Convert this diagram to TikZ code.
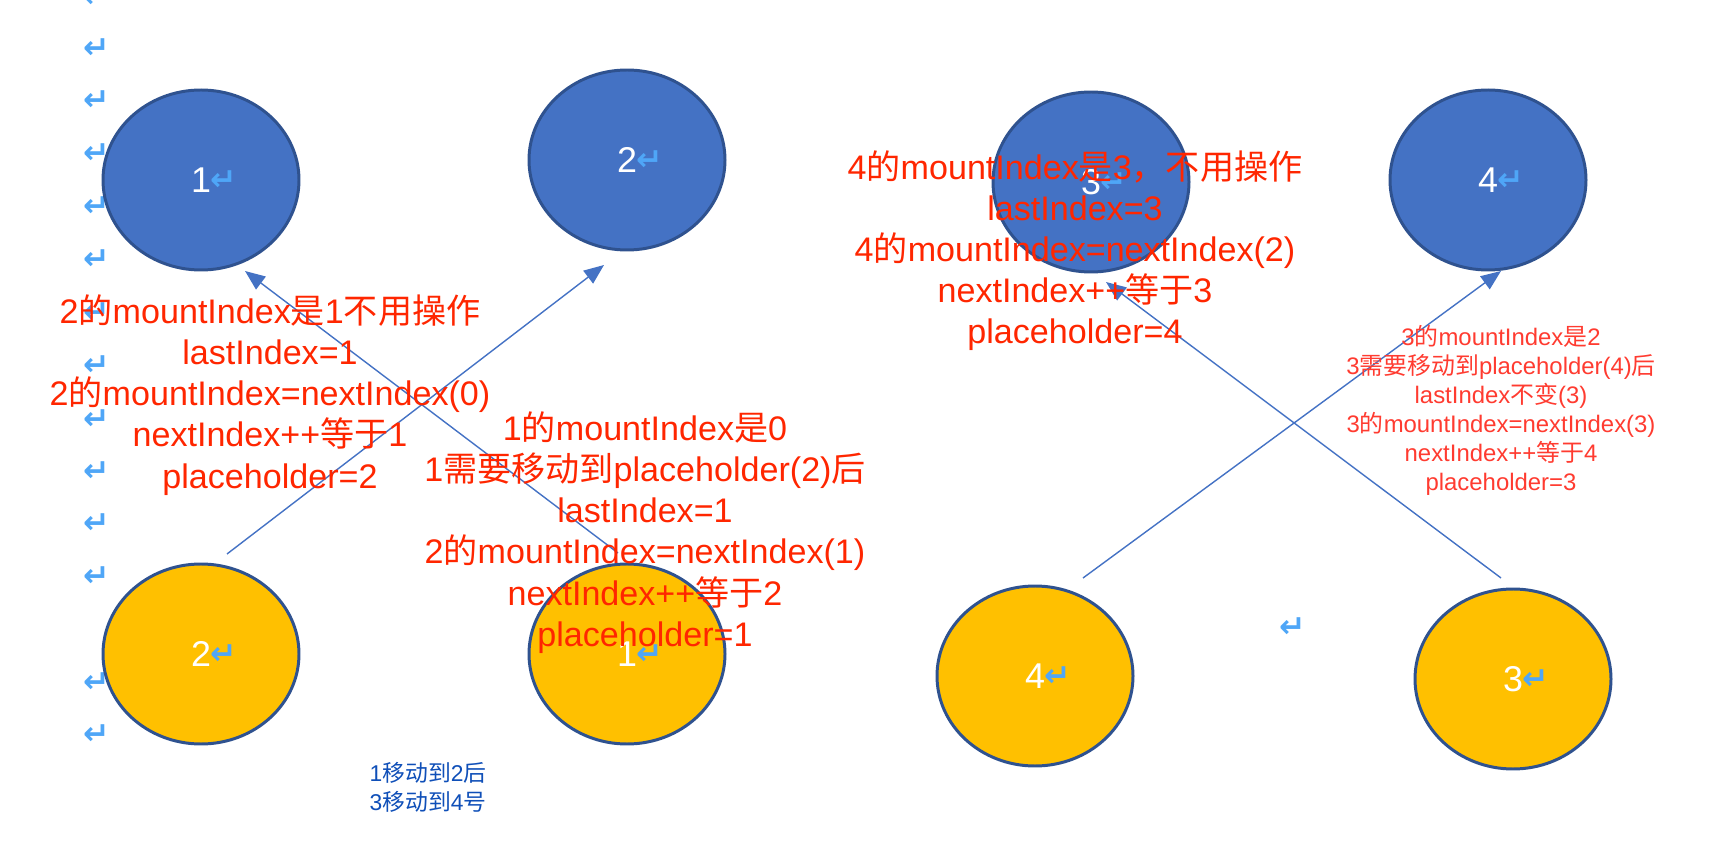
\documentclass[tikz,border=0pt]{standalone}
\usepackage{fontspec}
\setmainfont{Liberation Sans}
\newfontfamily\cjk{Noto Sans CJK SC}
\newfontfamily\dvs{DejaVu Sans}
\usepackage{tikz}
\usetikzlibrary{shapes.geometric}
\usetikzlibrary{arrows.meta}
\definecolor{fillblue}{HTML}{4472C4}
\definecolor{fillgold}{HTML}{FFC000}
\definecolor{rimblue}{HTML}{2F528F}
\definecolor{lineblue}{HTML}{4472C4}
\definecolor{retblue}{HTML}{4FA6F7}
\definecolor{notered}{HTML}{FF2600}
\definecolor{smallred}{HTML}{FF3B30}
\definecolor{darkblue}{HTML}{0F4FB8}
\newcommand{\zh}[1]{{\cjk #1}}
\newcommand{\ret}{{\dvs\bfseries\fontsize{9}{9}\selectfont\color{retblue}↵}}
\newcommand{\slot}[1]{{\color{white}#1}\rlap{\raisebox{0.1ex}{\ret}}}

\begin{document}
\begin{tikzpicture}[
    slotnode/.style={ellipse,draw=rimblue,line width=0.85pt,minimum width=1.96cm,
        minimum height=1.8cm,inner sep=0pt,outer sep=0pt,font=\fontsize{10.2}{12}\selectfont},
    oldslot/.style={slotnode,fill=fillblue},
    newslot/.style={slotnode,fill=fillgold},
    move/.style={draw=lineblue,line width=0.4pt,-{Triangle[length=2mm,width=1.6mm]}},
    note/.style={align=center,text=notered,font=\fontsize{9.7}{11.7}\selectfont},
    smallnote/.style={align=center,text=smallred,font=\fontsize{6.8}{8.25}\selectfont}]
    \useasboundingbox (0,0) rectangle (17.2,8.54);
    % paragraph marks
    \foreach \y [count=\i] in {8.56,8.05,7.53,7.00,6.47,5.94,5.41,4.88,4.34,3.82,3.30,2.77,1.71,1.19}
        \node (p\i) at (0.97,\y) {\ret};
    \node (pm) at (12.93,2.26) {\ret};
    % old list
    \node [oldslot] (b1) at (2.01,6.74) {\slot{1}};
    \node [oldslot] (b2) at (6.27,6.94) {\slot{2}};
    \node [oldslot] (b3) at (10.91,6.72) {\slot{3}};
    \node [oldslot] (b4) at (14.88,6.74) {\slot{4}};
    % new list
    \node [newslot] (y2) at (2.01,2.00) {\slot{2}};
    \node [newslot] (y1) at (6.27,2.00) {\slot{1}};
    \node [newslot] (y4) at (10.35,1.78) {\slot{4}};
    \node [newslot] (y3) at (15.13,1.75) {\slot{3}};
    \draw [move] ([shift={(0.26,0.10)}]y2.north) -- ([shift={(-0.23,-0.15)}]b2.south);
    \draw [move] ([shift={(-0.09,0.11)}]y1.north) -- ([shift={(0.44,-0.01)}]b1.south);
    \draw [move] ([shift={(0.48,0.08)}]y4.north) -- ([shift={(0.13,-0.01)}]b4.south);
    \draw [move] ([shift={(-0.12,0.11)}]y3.north) -- ([shift={(0.15,-0.10)}]b3.south);
    % notes
    \node [note] (n2) at (2.70,4.59) {2\zh{的}mountIndex\zh{是}1\zh{不用操作}\\
        lastIndex=1\\
        2\zh{的}mountIndex=nextIndex(0)\\
        nextIndex++\zh{等于}1\\
        placeholder=2};
    \node [note] (n1) at (6.45,3.215) {1\zh{的}mountIndex\zh{是}0\\
        1\zh{需要移动到}placeholder(2)\zh{后}\\
        lastIndex=1\\
        2\zh{的}mountIndex=nextIndex(1)\\
        nextIndex++\zh{等于}2\\
        placeholder=1};
    \node [note] (n4) at (10.75,6.035) {4\zh{的}mountIndex\zh{是}3\zh{，不用操作}\\
        lastIndex=3\\
        4\zh{的}mountIndex=nextIndex(2)\\
        nextIndex++\zh{等于}3\\
        placeholder=4};
    \node [smallnote] (n3) at (15.01,4.44) {3\zh{的}mountIndex\zh{是}2\\
        3\zh{需要移动到}placeholder(4)\zh{后}\\
        lastIndex\zh{不变}(3)\\
        3\zh{的}mountIndex=nextIndex(3)\\
        nextIndex++\zh{等于}4\\
        placeholder=3};
    \node [align=left,text=darkblue,font=\fontsize{6.5}{8.25}\selectfont] (sum) at (4.28,0.665)
        {1\zh{移动到}2\zh{后}\\3\zh{移动到}4\zh{号}};
\end{tikzpicture}
\end{document}
